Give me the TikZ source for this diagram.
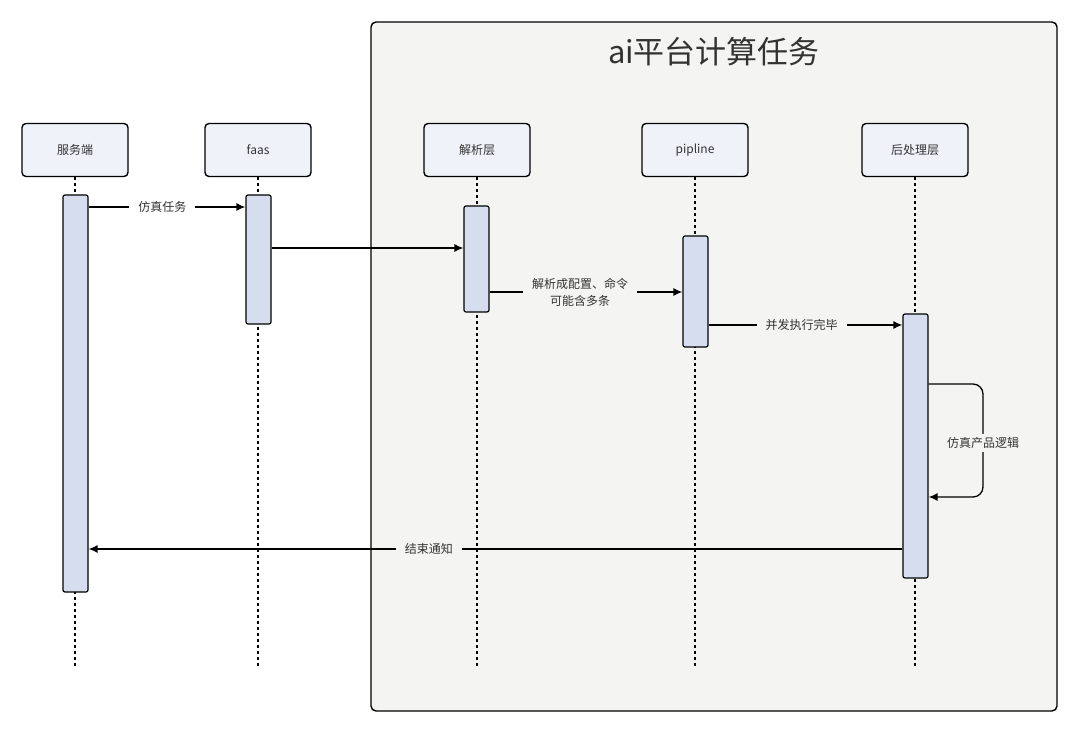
\documentclass[tikz,border=0pt]{standalone}
\usepackage{fontspec}
\setmainfont{Noto Sans CJK SC}
\usepackage{tikz}
\usetikzlibrary{arrows.meta}

\definecolor{groupbg}{HTML}{F4F4F2}
\definecolor{headbg}{HTML}{F0F2FA}
\definecolor{barbg}{HTML}{D5DDEF}
\definecolor{txt}{HTML}{333333}

\begin{document}
\begin{tikzpicture}[x=1pt,y=-1pt,
    head/.style={draw=black, line width=1.4pt, fill=headbg, rounded corners=4pt,
        minimum width=106pt, minimum height=53pt, inner sep=0pt,
        text=txt, font=\fontsize{12}{14}\selectfont},
    actbar/.style={draw=black, line width=1.2pt, fill=barbg, rounded corners=2pt,
        minimum width=25pt, inner sep=0pt},
    life/.style={line width=1.3pt, dash pattern=on 3pt off 3pt},
    msg/.style={line width=1.3pt, -{Latex[length=9pt,width=8pt]}},
    lbl/.style={text=txt, font=\fontsize{12}{17}\selectfont, inner xsep=9pt, align=center}]

\useasboundingbox (0,0) rectangle (1080,735);
\fill[white] (0,0) rectangle (1080,735);

% Group box
\draw[line width=1.4pt, fill=groupbg, rounded corners=5pt] (371,22) rectangle (1057,711);
\node[text=txt, font=\fontsize{31}{36}\selectfont] (title) at (714,52) {ai平台计算任务};

% Participants
\node[head] (srv) at (75,150) {服务端};
\node[head] (faas) at (258,150) {faas};
\node[head] (parse) at (477,150) {解析层};
\node[head] (pipe) at (695,150) {pipline};
\node[head] (post) at (915,150) {后处理层};

% Lifelines
\coordinate (lifeend) at (0,667);
\foreach \p in {srv,faas,parse,pipe,post}
    \draw[life] (\p.south) -- (\p.south |- lifeend);

% Activation bars
\node[actbar, minimum height=397pt] (srvbar) at (75.5,393.5) {};
\node[actbar, minimum height=129pt] (faasbar) at (258.5,259.5) {};
\node[actbar, minimum height=106pt] (parsebar) at (476.5,259) {};
\node[actbar, minimum height=111pt] (pipebar) at (695.5,291.5) {};
\node[actbar, minimum height=264pt] (postbar) at (915.5,446) {};

% Message levels
\coordinate (m1) at (0,207);
\coordinate (m2) at (0,248);
\coordinate (m3) at (0,292);
\coordinate (m4) at (0,325);
\coordinate (m5a) at (0,384);
\coordinate (m5b) at (0,497);
\coordinate (m6) at (0,549);
\coordinate (loopx) at (983,0);

% Messages
\draw[msg] (srvbar.east |- m1) -- (faasbar.west |- m1)
    node[lbl, fill=white, pos=0.47] (l1) {仿真任务};
\draw[msg] (faasbar.east |- m2) -- (parsebar.west |- m2);
\draw[msg] (parsebar.east |- m3) -- (pipebar.west |- m3)
    node[lbl, fill=groupbg, pos=0.47] (l3) {解析成配置、命令\\可能含多条};
\draw[msg] (pipebar.east |- m4) -- (postbar.west |- m4)
    node[lbl, fill=groupbg, pos=0.48] (l4) {并发执行完毕};
\draw[msg, rounded corners=10pt] (postbar.east |- m5a) -- (loopx |- m5a)
    -- (loopx |- m5b) -- (postbar.east |- m5b);
\node[lbl, fill=groupbg, inner xsep=2pt] (l5) at (983,443) {仿真产品逻辑};
\draw[msg] (postbar.west |- m6) -- (srvbar.east |- m6)
    node[lbl, fill=groupbg, pos=0.582] (l6) {结束通知};

\end{tikzpicture}
\end{document}
